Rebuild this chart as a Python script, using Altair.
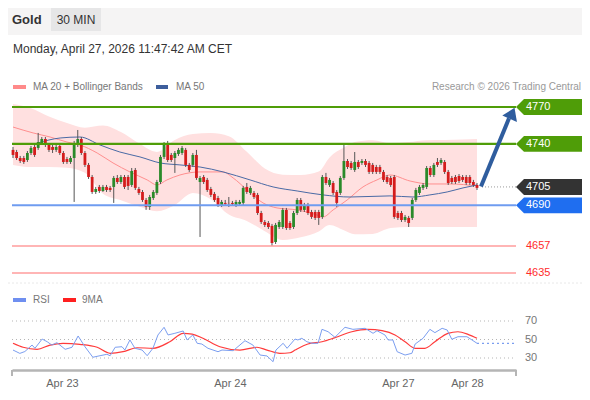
import altair as alt
import pandas as pd

# ---------------- data ----------------
opens = [4735.1, 4733.4, 4728.5, 4728.5, 4726.9, 4732.6, 4737.5, 4736.7, 4740.7, 4744.0,
         4739.1, 4737.5, 4735.1, 4738.3, 4732.6, 4727.7, 4725.3, 4728.5, 4739.1, 4744.0,
         4732.6, 4722.9, 4713.1, 4700.9, 4705.0, 4701.7, 4705.0, 4704.2, 4705.0, 4712.3,
         4709.0, 4713.1, 4713.1, 4706.6, 4718.8, 4703.3, 4700.9, 4694.4, 4688.7, 4696.0,
         4700.1, 4709.0, 4729.4, 4740.7, 4731.0, 4728.5, 4731.8, 4732.6, 4735.1, 4722.9,
         4722.9, 4731.0, 4709.0, 4713.1, 4710.7, 4703.3, 4699.3, 4696.0, 4690.3, 4692.0,
         4692.0, 4692.0, 4690.3, 4691.2, 4692.0, 4705.0, 4700.1, 4700.1, 4698.5, 4683.8,
         4676.5, 4675.7, 4673.3, 4660.2, 4672.4, 4672.4, 4686.3, 4675.7, 4672.4, 4683.8,
         4694.4, 4686.3, 4690.3, 4684.6, 4684.6, 4684.6, 4680.6, 4713.1, 4706.6, 4708.2,
         4700.9, 4700.1, 4712.3, 4726.1, 4724.5, 4718.8, 4725.3, 4724.5, 4726.1, 4724.5,
         4722.9, 4721.2, 4721.2, 4717.2, 4713.1, 4712.3, 4713.1, 4683.8, 4683.8, 4678.1,
         4679.8, 4679.8, 4694.4, 4700.1, 4704.2, 4705.0, 4720.4, 4714.7, 4725.3, 4724.5,
         4725.3, 4717.2, 4712.3, 4713.1, 4713.9, 4713.1, 4713.1, 4713.1, 4709.0, 4706.6]
highs = [4737.5, 4735.1, 4730.2, 4730.2, 4734.2, 4738.3, 4739.1, 4748.9, 4745.6, 4745.6,
         4740.7, 4739.1, 4739.1, 4739.9, 4734.2, 4729.4, 4730.2, 4742.4, 4751.3, 4745.6,
         4734.2, 4724.5, 4714.7, 4705.0, 4706.6, 4706.6, 4706.6, 4705.8, 4713.9, 4714.7,
         4714.7, 4714.7, 4714.7, 4720.4, 4720.4, 4705.0, 4702.5, 4696.0, 4698.5, 4702.5,
         4710.7, 4731.0, 4741.5, 4742.4, 4732.6, 4734.2, 4736.7, 4738.3, 4736.7, 4724.5,
         4732.6, 4735.1, 4713.9, 4714.7, 4712.3, 4705.0, 4700.9, 4697.7, 4694.4, 4694.4,
         4696.8, 4693.6, 4694.4, 4694.4, 4705.8, 4708.2, 4705.8, 4701.7, 4700.1, 4685.5,
         4678.1, 4677.3, 4674.9, 4675.7, 4678.1, 4687.9, 4687.9, 4677.3, 4685.5, 4696.0,
         4696.0, 4692.0, 4692.0, 4686.3, 4686.3, 4686.3, 4714.7, 4716.4, 4712.3, 4709.8,
         4702.5, 4713.9, 4739.1, 4727.7, 4726.1, 4733.4, 4726.9, 4727.7, 4727.7, 4726.1,
         4724.5, 4722.9, 4722.9, 4718.8, 4714.7, 4713.9, 4714.7, 4685.5, 4685.5, 4682.2,
         4681.4, 4696.0, 4704.2, 4706.6, 4708.2, 4722.0, 4722.0, 4724.5, 4728.5, 4728.5,
         4726.9, 4718.8, 4713.9, 4714.7, 4715.5, 4714.7, 4714.7, 4714.7, 4710.7, 4708.2]
lows = [4728.5, 4726.9, 4724.5, 4723.7, 4725.3, 4731.0, 4729.4, 4735.1, 4739.1, 4737.5,
        4733.4, 4732.6, 4733.4, 4731.0, 4723.7, 4723.7, 4723.7, 4692.8, 4737.5, 4731.0,
        4721.2, 4711.5, 4699.3, 4699.3, 4700.1, 4700.9, 4700.9, 4700.9, 4692.0, 4707.4,
        4707.4, 4703.3, 4702.5, 4705.0, 4702.5, 4698.5, 4692.8, 4686.3, 4686.3, 4694.4,
        4698.5, 4707.4, 4727.7, 4725.3, 4725.3, 4716.4, 4730.2, 4731.0, 4721.2, 4717.2,
        4721.2, 4710.7, 4664.3, 4707.4, 4700.9, 4696.8, 4692.8, 4688.7, 4688.7, 4689.5,
        4688.7, 4690.3, 4688.7, 4689.5, 4690.3, 4699.3, 4698.5, 4695.2, 4682.2, 4674.9,
        4672.4, 4670.8, 4657.0, 4658.6, 4670.8, 4670.8, 4670.0, 4670.0, 4670.8, 4682.2,
        4684.6, 4684.6, 4682.2, 4679.0, 4678.1, 4674.1, 4679.0, 4706.6, 4705.0, 4698.5,
        4688.7, 4698.5, 4710.7, 4719.6, 4718.8, 4717.2, 4719.6, 4722.9, 4721.2, 4715.5,
        4715.5, 4715.5, 4715.5, 4709.0, 4707.4, 4705.0, 4679.0, 4678.1, 4676.5, 4676.5,
        4672.4, 4678.1, 4692.8, 4698.5, 4702.5, 4703.3, 4713.1, 4713.1, 4721.2, 4722.9,
        4715.5, 4706.6, 4707.4, 4707.4, 4708.2, 4709.0, 4706.6, 4706.6, 4705.0, 4702.5]
closes = [4731.0, 4728.5, 4726.1, 4725.3, 4732.6, 4736.7, 4731.0, 4741.5, 4744.0, 4739.9,
          4735.1, 4735.1, 4737.5, 4732.6, 4725.3, 4725.3, 4728.5, 4739.1, 4744.0, 4732.6,
          4722.9, 4713.1, 4700.9, 4703.3, 4701.7, 4705.0, 4702.5, 4702.5, 4712.3, 4709.0,
          4713.1, 4705.0, 4705.8, 4718.0, 4704.2, 4700.1, 4694.4, 4688.7, 4696.8, 4700.9,
          4709.0, 4729.4, 4740.7, 4726.9, 4726.9, 4732.6, 4735.1, 4736.7, 4722.9, 4718.8,
          4731.0, 4712.3, 4712.3, 4709.0, 4702.5, 4698.5, 4694.4, 4690.3, 4692.8, 4691.2,
          4691.8, 4691.2, 4692.8, 4692.8, 4704.2, 4700.9, 4704.2, 4696.8, 4683.8, 4676.5,
          4674.1, 4672.4, 4659.4, 4674.1, 4676.5, 4686.3, 4671.6, 4671.6, 4683.8, 4694.4,
          4686.3, 4690.3, 4683.8, 4680.6, 4679.8, 4679.8, 4713.1, 4708.2, 4710.7, 4700.1,
          4692.0, 4712.3, 4726.1, 4721.2, 4720.4, 4725.3, 4721.2, 4726.1, 4722.9, 4717.2,
          4717.2, 4717.2, 4717.2, 4710.7, 4709.0, 4706.6, 4680.6, 4679.8, 4678.1, 4680.6,
          4675.7, 4694.4, 4702.5, 4705.0, 4706.6, 4720.4, 4714.7, 4722.9, 4722.9, 4726.9,
          4717.2, 4708.2, 4709.0, 4709.0, 4709.8, 4710.7, 4708.2, 4708.2, 4706.6, 4704.2]
bar_idx = list(range(len(closes)))

band_idx = [0, 5, 10, 15, 20, 25, 30, 35, 40, 45, 50, 55, 60, 65, 70, 75, 80, 85, 88, 92,
            95, 100, 105, 110, 115, 120, 125, 129]
band_upper = [4772.4, 4769.0, 4762.3, 4757.0, 4753.2, 4755.0, 4749.7, 4740.5, 4733.5, 4743.2,
              4748.0, 4748.9, 4746.3, 4733.6, 4720.0, 4715.0, 4714.7, 4717.5, 4729.0, 4737.0,
              4741.5, 4743.0, 4740.7, 4741.5, 4743.0, 4743.2, 4743.5, 4744.0]
band_lower = [4722.9, 4721.2, 4721.2, 4720.6, 4716.5, 4699.5, 4694.2, 4689.0, 4685.2, 4690.3,
              4700.0, 4695.0, 4682.5, 4677.3, 4669.0, 4661.9, 4664.0, 4668.8, 4674.1, 4669.8,
              4666.5, 4666.8, 4671.6, 4672.4, 4672.4, 4672.4, 4672.4, 4672.4]

ma20_idx = [0, 5.6, 10.3, 15.0, 18.6, 23.4, 27.8, 32.5, 37.3, 40.0, 42.8, 46.4, 52.0, 58.4,
            61.2, 65.1, 69.5, 73.4, 79.0, 84.5, 86.2, 89.0, 92.9, 97.3, 101.2, 104.8, 110.4,
            115.9, 121.5, 129.0]
ma20_val = [4753.7, 4748.9, 4745.6, 4741.5, 4739.1, 4732.6, 4724.5, 4717.2, 4710.7, 4706.6,
            4710.7, 4714.7, 4717.2, 4717.2, 4712.3, 4702.5, 4692.0, 4687.9, 4686.3, 4682.2,
            4680.6, 4686.3, 4694.4, 4705.0, 4710.7, 4714.7, 4709.8, 4707.4, 4707.4, 4705.8]

ma50_idx = [6.9, 13.1, 18.6, 24.2, 29.7, 35.3, 40.9, 46.4, 52.0, 58.4, 65.9, 72.3, 79.0,
            86.2, 93.7, 104.8, 111.2, 115.9, 120.7, 125.1, 129.0]
ma50_val = [4740.7, 4744.8, 4745.6, 4739.1, 4733.4, 4729.4, 4724.5, 4722.9, 4721.2, 4717.2,
            4710.7, 4705.0, 4701.7, 4698.5, 4696.8, 4697.7, 4696.8, 4698.5, 4700.9, 4704.2,
            4706.6]

level_values = [4770, 4740, 4705, 4690, 4657, 4635]
level_labels = ["4770", "4740", "4705", "4690", "4657", "4635"]

arrow_idx = [130.1, 137.9]
arrow_price = [4705.4, 4760.8]
arrow_head_idx = [138.75]
arrow_head_price = [4764.9]

rsi_idx = [0, 1.9, 3.3, 5.3, 6.1, 8.1, 9.5, 10.8, 12.2, 14.5, 16.4, 18.1, 20.0, 22.2, 24.2,
           26.1, 27.0, 28.4, 30.3, 31.1, 32.5, 33.9, 35.9, 37.3, 38.9, 40.3, 42.0, 43.1, 45.0,
           47.3, 48.4, 50.0, 51.2, 52.5, 54.2, 57.0, 58.1, 61.2, 64.5, 66.7, 68.7, 70.6, 72.3,
           73.1, 75.1, 76.2, 78.4, 79.2, 80.3, 81.7, 83.1, 84.8, 85.9, 87.6, 89.5, 92.3, 94.5,
           97.9, 100.1, 101.2, 103.4, 104.3, 105.6, 106.8, 109.0, 110.9, 111.8, 114.0, 115.9,
           117.3, 119.3, 120.7, 122.0, 123.7, 126.2, 127.6, 129.0]
rsi_val = [38.6, 35.0, 37.0, 44.0, 40.5, 50.5, 47.6, 44.0, 46.6, 39.4, 41.6, 53.8, 42.2, 30.8,
           32.5, 34.0, 32.5, 41.6, 42.2, 38.6, 49.5, 40.5, 38.6, 32.5, 40.5, 54.9, 63.2, 54.9,
           56.7, 59.2, 49.5, 54.9, 45.9, 45.1, 40.5, 36.8, 38.6, 37.9, 48.7, 44.0, 33.2, 32.2,
           26.0, 38.6, 45.9, 40.5, 50.5, 49.5, 51.3, 47.6, 45.9, 45.9, 61.0, 58.4, 52.4, 63.2,
           61.0, 62.1, 56.7, 59.5, 54.9, 49.5, 49.5, 36.8, 33.2, 35.1, 45.1, 51.3, 61.0, 57.4,
           62.1, 60.3, 50.2, 53.0, 53.0, 49.5, 45.9]
rsi_ext_idx = [129.0, 139.6]
rsi_ext_val = [45.9, 45.9]

ma9_idx = [0, 2.8, 6.7, 10.3, 13.9, 18.6, 23.4, 27.0, 30.6, 34.5, 38.9, 43.6, 47.3, 49.8,
           52.8, 57.5, 63.1, 67.8, 70.6, 74.2, 77.0, 78.4, 82.0, 85.9, 89.5, 94.2, 98.7,
           102.6, 106.2, 109.0, 111.8, 114.5, 117.3, 120.9, 123.7, 126.5, 129.0]
ma9_val = [45.9, 41.6, 39.4, 44.0, 45.9, 44.8, 41.6, 35.1, 36.8, 41.1, 40.5, 47.6, 56.7, 55.9,
           51.3, 42.2, 38.6, 41.6, 38.6, 35.1, 35.7, 38.6, 45.1, 47.6, 52.0, 58.4, 61.0, 59.5,
           54.9, 47.6, 40.5, 40.5, 47.6, 56.7, 58.4, 55.6, 51.3]

rsi_levels = [70, 50, 30]
rsi_level_labels = ["70", "50", "30"]

day_label_pos = [13.6, 60.3, 107.0, 126.2]
day_labels = ["Apr 23", "Apr 24", "Apr 27", "Apr 28"]

# ---------------- tables ----------------
candles = pd.DataFrame({"i": bar_idx, "o": opens, "h": highs, "l": lows, "c": closes})
candles["dir"] = ["up" if c >= o else "down" for o, c in zip(opens, closes)]
band = pd.DataFrame({"i": band_idx, "u": band_upper, "lo": band_lower})
ma20 = pd.DataFrame({"i": ma20_idx, "p": ma20_val})
ma50 = pd.DataFrame({"i": ma50_idx, "p": ma50_val})
levels = pd.DataFrame({"p": level_values, "label": level_labels})
arrow = pd.DataFrame({"i": arrow_idx, "p": arrow_price})
arrow_head = pd.DataFrame({"i": arrow_head_idx, "p": arrow_head_price})
rsi = pd.DataFrame({"i": rsi_idx, "r": rsi_val})
rsi_ext = pd.DataFrame({"i": rsi_ext_idx, "r": rsi_ext_val})
ma9 = pd.DataFrame({"i": ma9_idx, "r": ma9_val})
rsi_lv = pd.DataFrame({"r": rsi_levels, "label": rsi_level_labels})

FONT = "Liberation Sans"
xs = alt.Scale(domain=[-0.28, 139.84], range=[4, 508], nice=False, zero=False, padding=0)
ps = alt.Scale(domain=[4635, 4770], range=[265, 99], nice=False, zero=False)
rs = alt.Scale(domain=[30, 70], range=[350, 313], nice=False, zero=False)

label_expr = "''"
for pos, lab in reversed(list(zip(day_label_pos, day_labels))):
    label_expr = f"datum.value == {pos} ? '{lab}' : {label_expr}"

x_axis = alt.Axis(values=day_label_pos, labelExpr=label_expr, ticks=False, grid=False,
                  domainColor="#b5b5b5", domainWidth=2.5, labelColor="#666666",
                  labelFontSize=11, labelFont=FONT, labelPadding=7,
                  labelFlush=False, labelOverlap=False)


def X(f):
    return alt.X(f, type="quantitative", scale=xs, axis=x_axis, title=None)


def YP(f):
    return alt.Y(f, type="quantitative", scale=ps, axis=None)


def YR(f):
    return alt.Y(f, type="quantitative", scale=rs, axis=None)


def deco():
    return alt.Chart(alt.Data(values=[{}]))


def box(x1, x2, y1, y2, color):
    return deco().mark_rect(color=color).encode(
        x=alt.value(x1), x2=alt.value(x2), y=alt.value(y1), y2=alt.value(y2))


def label(txt, x, y, size, color, align="left", weight="normal"):
    return deco().mark_text(text=txt, fontSize=size, color=color, align=align,
                            baseline="middle", fontWeight=weight, font=FONT).encode(
        x=alt.value(x), y=alt.value(y))


layers = []
# header
layers.append(box(0, 574, 0, 27, "#f5f4f4"))
layers.append(label("Gold", 4, 11.5, 13, "#333333", weight="bold"))
layers.append(box(43, 93, 0, 23, "#e6e6e7"))
layers.append(label("30 MIN", 68, 11.5, 12, "#333333", align="center"))
layers.append(label("Monday, April 27, 2026 11:47:42 AM CET", 5, 40.5, 12, "#333333"))
# legend
layers.append(box(5, 18, 77, 81, "#ff8a8a"))
layers.append(label("MA 20 + Bollinger Bands", 25, 79, 10, "#777777"))
layers.append(box(148, 160, 77, 81, "#3d5e9c"))
layers.append(label("MA 50", 168, 79, 10, "#777777"))
layers.append(label("Research © 2026 Trading Central", 573, 79, 10, "#999999", align="right"))

# bollinger band and MAs
layers.append(alt.Chart(band).mark_area(color="#ffe0e0", opacity=1, interpolate="monotone").encode(
    x=X("i"), y=YP("u"), y2="lo:Q"))
layers.append(alt.Chart(ma20).mark_line(color="#ff8f8f", strokeWidth=1, interpolate="monotone").encode(
    x=X("i"), y=YP("p")))
layers.append(alt.Chart(ma50).mark_line(color="#4a6aa5", strokeWidth=1, interpolate="monotone").encode(
    x=X("i"), y=YP("p")))

# candles
layers.append(alt.Chart(candles).mark_rule(color="#555555", strokeWidth=1).encode(
    x=X("i"), y=YP("l"), y2="h:Q"))
layers.append(alt.Chart(candles).mark_bar(size=2.8).encode(
    x=X("i"), y=YP("o"), y2="c:Q",
    color=alt.Color("dir:N", scale=alt.Scale(domain=["up", "down"], range=["#2a8a2a", "#d41c1c"]),
                    legend=None)))

# level lines
level_styles = {
    "4770": dict(line="#4f9d08", width=2.2, boxc="#4f9d08"),
    "4740": dict(line="#4f9d08", width=2.2, boxc="#4f9d08"),
    "4705": dict(line=None, width=0, boxc="#333333"),
    "4690": dict(line="#6f9cf0", width=2, boxc="#1f6ef0"),
    "4657": dict(line="#ff9c9c", width=1.5, boxc=None),
    "4635": dict(line="#ff9c9c", width=1.5, boxc=None),
}
box_shape = "M -1 0 L -0.758 -0.242 L 1 -0.242 L 1 0.242 L -0.758 0.242 Z"
for lab, st in level_styles.items():
    sub = alt.Chart(levels).transform_filter(alt.datum.label == lab)
    if st["line"]:
        layers.append(sub.mark_rule(color=st["line"], strokeWidth=st["width"]).encode(
            x=alt.value(4), x2=alt.value(508), y=YP("p")))
    else:
        layers.append(sub.mark_rule(color="#9a9a9a", strokeWidth=1, strokeDash=[1, 2]).encode(
            x=alt.value(474), x2=alt.value(508), y=YP("p")))
    if st["boxc"]:
        layers.append(sub.mark_point(shape=box_shape, filled=True, size=4356, opacity=1,
                                     color=st["boxc"], strokeWidth=0).encode(
            x=alt.value(541), y=YP("p")))
        layers.append(sub.mark_text(color="white", fontSize=11, align="left", baseline="middle",
                                    font=FONT).encode(x=alt.value(518), y=YP("p"), text="label:N"))
    else:
        layers.append(sub.mark_text(color="#ff2b2b", fontSize=11, align="left", baseline="middle",
                                    font=FONT).encode(x=alt.value(518), y=YP("p"), text="label:N"))

# arrow
layers.append(alt.Chart(arrow).mark_line(color="#2f5d9e", strokeWidth=4, strokeCap="butt").encode(
    x=X("i"), y=YP("p")))
layers.append(alt.Chart(arrow_head).mark_point(shape="M 0 -0.75 L 1 0.75 L -1 0.75 Z", filled=True,
                                               size=256, angle=24, color="#2f5d9e", opacity=1,
                                               strokeWidth=0).encode(x=X("i"), y=YP("p")))

# separator
layers.append(deco().mark_rule(color="#e8e8e8", strokeWidth=1, strokeDash=[2, 2]).encode(
    x=alt.value(0), x2=alt.value(574), y=alt.value(275)))

# RSI panel
layers.append(box(5, 18, 290, 294, "#6f8ff0"))
layers.append(label("RSI", 25, 292, 10, "#777777"))
layers.append(box(55, 68, 290, 294, "#ff2020"))
layers.append(label("9MA", 74, 292, 10, "#777777"))
layers.append(alt.Chart(rsi_lv).mark_rule(color="#b5b5b5", strokeWidth=1, strokeDash=[1, 3]).encode(
    x=alt.value(4), x2=alt.value(508), y=YR("r")))
layers.append(alt.Chart(rsi_lv).mark_text(color="#777777", fontSize=11, align="left",
                                          baseline="middle", font=FONT).encode(
    x=alt.value(517), y=YR("r"), text="label:N"))
layers.append(alt.Chart(ma9).mark_line(color="#ff3b3b", strokeWidth=1.2, interpolate="monotone").encode(
    x=X("i"), y=YR("r")))
layers.append(alt.Chart(rsi_ext).mark_line(color="#7b9ef0", strokeWidth=1.2, strokeDash=[2, 3]).encode(
    x=X("i"), y=YR("r")))
layers.append(alt.Chart(rsi).mark_line(color="#7b9ef0", strokeWidth=1).encode(
    x=X("i"), y=YR("r")))

# axis end ticks
layers.append(deco().mark_rule(color="#b5b5b5", strokeWidth=2).encode(
    x=alt.value(4), y=alt.value(362), y2=alt.value(368)))
layers.append(deco().mark_rule(color="#b5b5b5", strokeWidth=2).encode(
    x=alt.value(508), y=alt.value(362), y2=alt.value(368)))

chart = alt.layer(*layers).resolve_scale(y="independent").properties(
    width=574, height=362,
    padding={"left": 0, "top": 0, "right": 0, "bottom": 22},
    autosize=alt.AutoSizeParams(type="none"),
    background="white",
).configure_view(strokeWidth=0).configure_text(font=FONT)

chart.save("out.html", embed_options={"renderer": "svg", "actions": False})
